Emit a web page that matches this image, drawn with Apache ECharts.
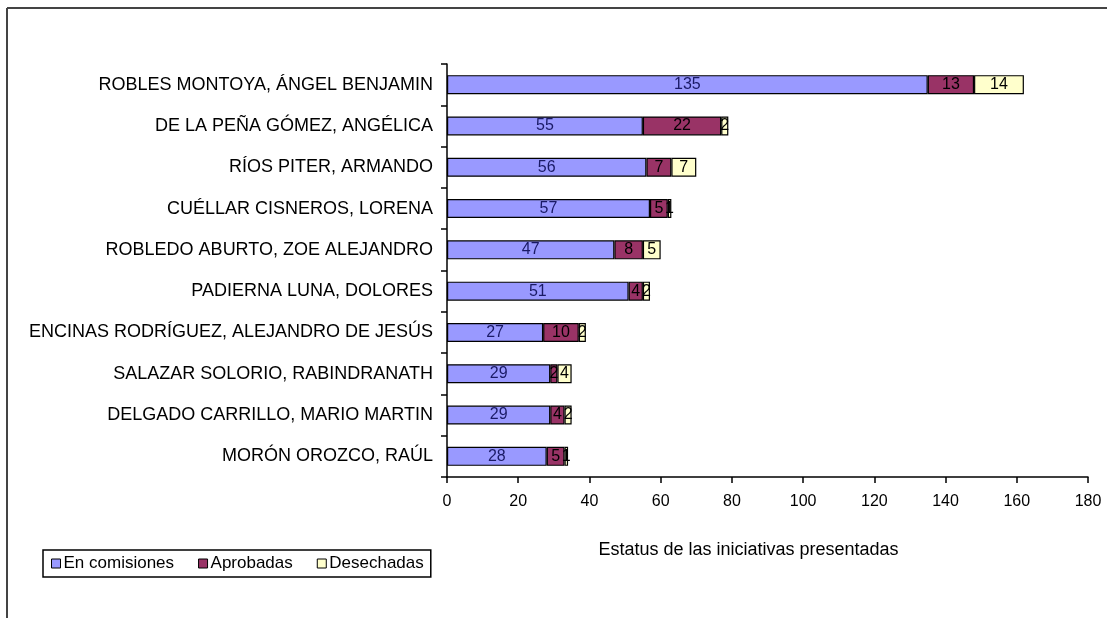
<!DOCTYPE html>
<html><head><meta charset="utf-8">
<script src="https://cdn.jsdelivr.net/npm/echarts@6/dist/echarts.min.js"></script>
<style>html,body{margin:0;padding:0;background:#fff}#c{width:1107px;height:618px}</style>
</head><body><div id="c"></div>
<script>
const categories = [
  "ROBLES MONTOYA, ÁNGEL BENJAMIN",
  "DE LA PEÑA GÓMEZ, ANGÉLICA",
  "RÍOS PITER, ARMANDO",
  "CUÉLLAR CISNEROS, LORENA",
  "ROBLEDO ABURTO, ZOE ALEJANDRO",
  "PADIERNA LUNA, DOLORES",
  "ENCINAS RODRÍGUEZ, ALEJANDRO DE JESÚS",
  "SALAZAR SOLORIO, RABINDRANATH",
  "DELGADO CARRILLO, MARIO MARTIN",
  "MORÓN OROZCO, RAÚL"
];
const enComisiones = [135, 55, 56, 57, 47, 51, 27, 29, 29, 28];
const aprobadas    = [13, 22, 7, 5, 8, 4, 10, 2, 4, 5];
const desechadas   = [14, 2, 7, 1, 5, 2, 2, 4, 2, 1];
const seriesNames = ["En comisiones", "Aprobadas", "Desechadas"];
const xTicks = [0, 20, 40, 60, 80, 100, 120, 140, 160, 180];

const font = "'Liberation Sans', Arial, sans-serif";
const chart = echarts.init(document.getElementById('c'), null, {renderer: 'canvas'});
function mk(name, data, color, labelColor) {
  return {
    name, type: 'bar', stack: 'total', data, barWidth: 19,
    itemStyle: {color, borderColor: '#000', borderWidth: 1.2},
    label: {show: true, position: 'inside', color: labelColor, fontSize: 16, fontFamily: font},
    emphasis: {disabled: true}
  };
}
chart.setOption({
  animation: false,
  textStyle: {fontFamily: font},
  graphic: [
    {type: 'line', shape: {x1: 7, y1: 8, x2: 1107, y2: 8}, style: {stroke: '#444', lineWidth: 2}},
    {type: 'line', shape: {x1: 7, y1: 8, x2: 7, y2: 618}, style: {stroke: '#444', lineWidth: 2}}
  ],
  legend: {
    left: 43, top: 550, orient: 'horizontal',
    data: seriesNames,
    itemWidth: 9, itemHeight: 9, itemGap: 24,
    borderColor: '#000', borderWidth: 1.5, padding: [5, 7, 5, 8],
    textStyle: {fontSize: 17, fontFamily: font, color: '#000', padding: [0, 0, 0, -2]},
    itemStyle: {borderColor: '#000', borderWidth: 1},
    icon: 'rect'
  },
  grid: {left: 447, right: 19, top: 64, bottom: 141, containLabel: false},
  xAxis: {
    type: 'value', min: 0, max: 180, interval: 20,
    name: 'Estatus de las iniciativas presentadas', nameLocation: 'middle', nameGap: 64,
    nameTextStyle: {fontSize: 18, color: '#000', fontFamily: font, padding: [0, 38, 0, 0]},
    axisLine: {show: true, lineStyle: {color: '#000', width: 1.5}},
    axisTick: {show: true, length: 6, lineStyle: {color: '#000', width: 1.5}},
    axisLabel: {fontSize: 16, color: '#000', margin: 17, fontFamily: font,
      formatter: v => xTicks.includes(v) ? String(v) : ''},
    splitLine: {show: false}
  },
  yAxis: {
    type: 'category', data: categories, inverse: true,
    axisLine: {show: true, lineStyle: {color: '#000', width: 1.5}},
    axisTick: {show: true, length: 6, inside: false, lineStyle: {color: '#000', width: 1.5}},
    axisLabel: {fontSize: 18, color: '#000', margin: 14, fontFamily: font}
  },
  series: [
    mk(seriesNames[0], enComisiones, '#9999FF', '#1a1a66'),
    mk(seriesNames[1], aprobadas, '#993366', '#000'),
    mk(seriesNames[2], desechadas, '#FFFFCC', '#000')
  ]
});
</script></body></html>
